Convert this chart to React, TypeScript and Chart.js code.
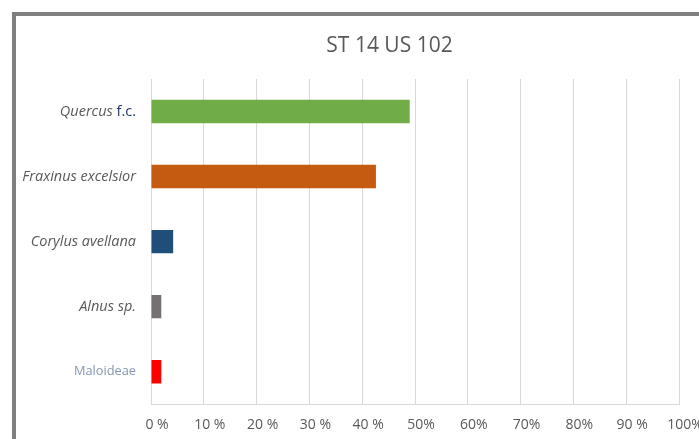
import React, { useEffect, useRef } from "react";
import { Chart, registerables } from "chart.js";

Chart.register(...registerables);

const title = "ST 14 US 102";
const categories = ["Quercus f.c.", "Fraxinus excelsior", "Corylus avellana", "Alnus sp.", "Maloideae"];
const values = [49.0, 42.6, 4.2, 1.95, 1.95];
const barColors = ["#70ad47", "#c55a11", "#1f4e79", "#767171", "#ff0000"];
const xTickLabels = ["0 %", "10 %", "20 %", "30 %", "40 %", "50%", "60%", "70%", "80%", "90 %", "100%"];

const FONT = "'Open Sans', 'DejaVu Sans', sans-serif";
const CANVAS_W = 747;
const CANVAS_H = 437;

const textPlugin = {
  id: "customText",
  afterDraw(chart: any) {
    const ctx = chart.ctx;
    const yScale = chart.scales.y;
    ctx.save();
    // title
    ctx.font = "21px " + FONT;
    ctx.fillStyle = "#595959";
    ctx.textAlign = "center";
    ctx.textBaseline = "alphabetic";
    ctx.fillText(title, 373.5, 35.5);
    // y labels
    const right = chart.chartArea.left - 15;
    ctx.textBaseline = "middle";
    ctx.textAlign = "left";
    const italic = "italic 14.5px " + FONT;
    const normal = "14.5px " + FONT;
    categories.forEach((label, i) => {
      const y = yScale.getPixelForValue(i);
      if (label === "Quercus f.c.") {
        ctx.font = normal;
        const w2 = ctx.measureText(" f.c.").width;
        ctx.font = italic;
        const w1 = ctx.measureText("Quercus").width;
        const x0 = right - w1 - w2;
        ctx.fillStyle = "#595959";
        ctx.fillText("Quercus", x0, y);
        ctx.font = normal;
        ctx.fillStyle = "#203864";
        ctx.fillText(" f.c.", x0 + w1, y);
      } else if (label === "Maloideae") {
        ctx.font = "12.8px " + FONT;
        ctx.fillStyle = "#8497b0";
        const w = ctx.measureText(label).width;
        ctx.fillText(label, right - w, y);
      } else {
        ctx.font = italic;
        ctx.fillStyle = "#595959";
        const w = ctx.measureText(label).width;
        ctx.fillText(label, right - w, y);
      }
    });
    ctx.restore();
  },
};

export default function App() {
  const ref = useRef<HTMLCanvasElement | null>(null);
  useEffect(() => {
    if (!ref.current) return;
    const chart = new Chart(ref.current, {
      type: "bar",
      data: {
        labels: categories,
        datasets: [
          {
            data: values,
            backgroundColor: barColors,
            borderWidth: 0,
            barPercentage: 0.36,
            categoryPercentage: 1,
          },
        ],
      },
      options: {
        indexAxis: "y",
        animation: false,
        responsive: false,
        maintainAspectRatio: false,
        layout: { padding: { left: 135, right: 84, top: 63, bottom: 8 } },
        plugins: {
          legend: { display: false },
          tooltip: { enabled: false },
          title: { display: false },
        },
        scales: {
          x: {
            min: 0,
            max: 100,
            ticks: {
              stepSize: 10,
              color: "#595959",
              font: { family: FONT, size: 14 },
              padding: 12,
              labelOffset: 6,
              maxRotation: 0,
              autoSkip: false,
              callback: (_v: any, i: number) => xTickLabels[i],
            },
            grid: { color: "#d9d9d9", drawTicks: false },
            border: { display: true, color: "#d9d9d9" },
          },
          y: {
            display: false,
            grid: { display: false },
          },
        },
      },
      plugins: [textPlugin],
    });
    return () => chart.destroy();
  }, []);
  return (
    <div
      style={{
        position: "fixed",
        left: 12,
        top: 12,
        width: CANVAS_W,
        height: CANVAS_H,
        borderLeft: "4px solid #7f7f7f",
        borderTop: "4px solid #7f7f7f",
        background: "#fff",
      }}
    >
      <canvas ref={ref} width={CANVAS_W} height={CANVAS_H} style={{ display: "block" }} />
    </div>
  );
}
